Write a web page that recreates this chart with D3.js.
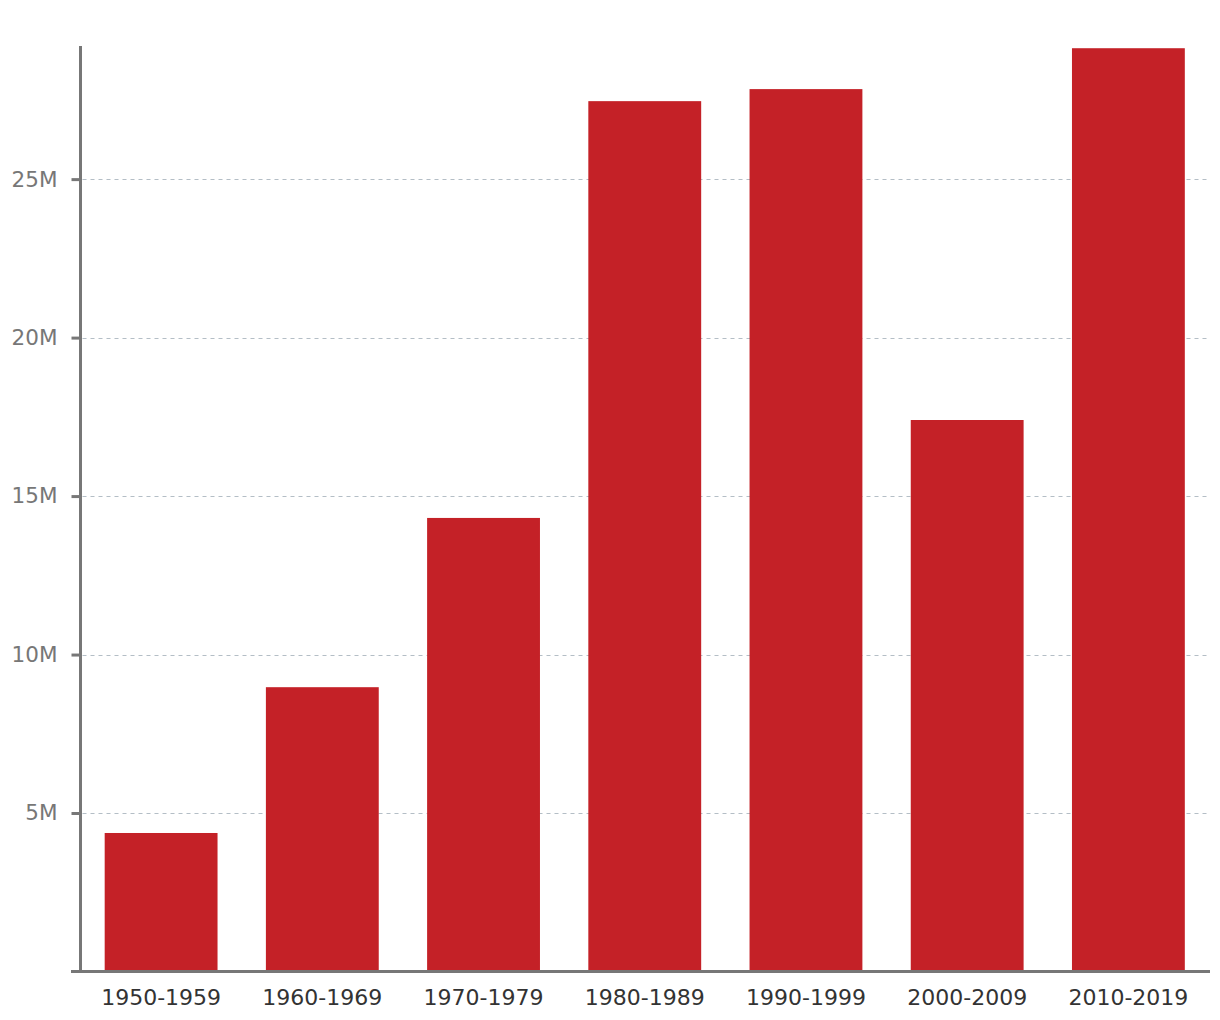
<!DOCTYPE html>
<html>
<head>
<meta charset="utf-8">
<script src="https://cdn.jsdelivr.net/npm/d3@7"></script>
<style>
  html, body { margin: 0; padding: 0; background: #fff; }
  svg { display: block; }
</style>
</head>
<body>
<svg id="chart" width="1220" height="1020"></svg>
<script>
const categories = ["1950-1959", "1960-1969", "1970-1979", "1980-1989", "1990-1999", "2000-2009", "2010-2019"];
const values = [4.37e6, 8.97e6, 14.31e6, 27.46e6, 27.84e6, 17.40e6, 29.13e6];
const yTicks = [5e6, 10e6, 15e6, 20e6, 25e6];
const yTickLabels = ["5M", "10M", "15M", "20M", "25M"];
const yMax = 29.2e6;

(function () {
const svg = d3.select("#chart");
const mLeft = 80.5, mRight = 1209, mTop = 46, mBottom = 971.5;

const x = d3.scaleBand().domain(categories).range([mLeft, mRight]).paddingInner(0.3).paddingOuter(0.15);
const y = d3.scaleLinear().domain([0, yMax]).range([mBottom, mTop]);

const font = "'DejaVu Sans', Verdana, sans-serif";

// gridlines
svg.append("g").selectAll("line").data(yTicks).join("line")
  .attr("x1", mLeft + 2).attr("x2", mRight + 1)
  .attr("y1", d => Math.round(y(d)) + 0.5).attr("y2", d => Math.round(y(d)) + 0.5)
  .attr("stroke", "#b4bec6").attr("stroke-width", 1.2).attr("stroke-dasharray", "4,4");

// bars
svg.append("g").selectAll("rect").data(categories).join("rect")
  .attr("x", d => x(d)).attr("width", x.bandwidth())
  .attr("y", (d, i) => y(values[i])).attr("height", (d, i) => mBottom - y(values[i]))
  .attr("fill", "#c42127");

// y axis
const yAxis = d3.axisLeft(y).tickValues(yTicks).tickFormat((d, i) => yTickLabels[i]).tickSize(9).tickPadding(14);
const gy = svg.append("g").attr("transform", `translate(${mLeft},0)`).call(yAxis);
gy.select(".domain").remove();
gy.selectAll(".tick line").attr("stroke", "#777").attr("stroke-width", 3);
gy.selectAll(".tick text").attr("fill", "#777").style("font-family", font).style("font-size", "21.5px");
svg.append("line").attr("x1", mLeft).attr("x2", mLeft).attr("y1", mTop).attr("y2", mBottom)
  .attr("stroke", "#777").attr("stroke-width", 3);

// x axis
const xAxis = d3.axisBottom(x).tickSize(0).tickPadding(18);
const gx = svg.append("g").attr("transform", `translate(0,${mBottom})`).call(xAxis);
gx.select(".domain").remove();
gx.selectAll(".tick text").attr("fill", "#333").style("font-family", font).style("font-size", "22px");
svg.append("line").attr("x1", 71).attr("x2", 1210).attr("y1", mBottom).attr("y2", mBottom)
  .attr("stroke", "#777").attr("stroke-width", 3);
})();
</script>
</body>
</html>
